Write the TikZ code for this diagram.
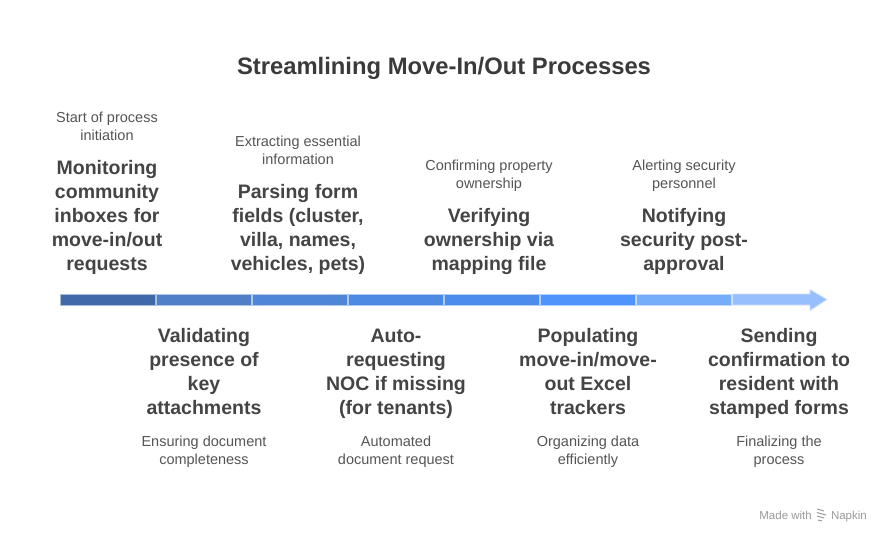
\documentclass[tikz,border=0pt]{standalone}
\usepackage{fontspec}
\setmainfont{Liberation Sans}
\definecolor{titlec}{HTML}{3A3A3A}
\definecolor{bigc}{HTML}{444444}
\definecolor{smallc}{HTML}{555555}
\definecolor{wm}{HTML}{9A9A9A}
\definecolor{c1}{HTML}{4169AA}
\definecolor{c2}{HTML}{5080C8}
\definecolor{c3}{HTML}{4F86D6}
\definecolor{c4}{HTML}{4D8AE3}
\definecolor{c5}{HTML}{4C8DEB}
\definecolor{c6}{HTML}{4E94FA}
\definecolor{c7}{HTML}{76ADFA}
\definecolor{c8}{HTML}{97BFFD}
\tikzset{
  seg/.style={draw=#1!45!white, fill=#1, line width=0.8pt},
  big/.style={font=\fontsize{19.5}{24}\selectfont\bfseries, text=bigc, align=center, inner sep=0pt, anchor=north},
  small/.style={font=\fontsize{14.5}{18}\selectfont, text=smallc, align=center, inner sep=0pt, anchor=north},
}
\begin{document}
\begin{tikzpicture}[x=1pt,y=-1pt]
\useasboundingbox (0,0) rectangle (888,540);
\fill[white] (0,0) rectangle (888,540);
% title
\node[font=\fontsize{23.8}{28}\selectfont\bfseries, text=titlec, anchor=base, inner sep=0pt] (title) at (444,75) {Streamlining Move-In/Out Processes};
% timeline bar
\draw[seg=c1] (60,294) rectangle (155.5,305);
\draw[seg=c2] (156.5,294) rectangle (251.5,305);
\draw[seg=c3] (252.5,294) rectangle (347.5,305);
\draw[seg=c4] (348.5,294) rectangle (443.5,305);
\draw[seg=c5] (444.5,294) rectangle (539.5,305);
\draw[seg=c6] (540.5,294) rectangle (635.5,305);
\draw[seg=c7] (636.5,294) rectangle (731.5,305);
\draw[seg=c8] (732.5,294) -- (810,294) -- (810,289.5) -- (827,299.5) -- (810,310.5) -- (810,305) -- (732.5,305) -- cycle;
% top labels
\node[small] (s1) at (107,111.5) {Start of process\\initiation};
\node[big] (b1) at (107,160.5) {Monitoring\\community\\inboxes for\\move-in/out\\requests};
\node[small] (s3) at (298,135.5) {Extracting essential\\information};
\node[big] (b3) at (298,184.5) {Parsing form\\fields (cluster,\\villa, names,\\vehicles, pets)};
\node[small] (s5) at (489,159.5) {Confirming property\\ownership};
\node[big] (b5) at (489,208.5) {Verifying\\ownership via\\mapping file};
\node[small] (s7) at (684,159.5) {Alerting security\\personnel};
\node[big] (b7) at (684,208.5) {Notifying\\security post-\\approval};
% bottom labels
\node[big] (b2) at (204,328.5) {Validating\\presence of\\key\\attachments};
\node[small] (s2) at (204,435.5) {Ensuring document\\completeness};
\node[big] (b4) at (396,328.5) {Auto-\\requesting\\NOC if missing\\(for tenants)};
\node[small] (s4) at (396,435.5) {Automated\\document request};
\node[big] (b6) at (588,328.5) {Populating\\move-in/move-\\out Excel\\trackers};
\node[small] (s6) at (588,435.5) {Organizing data\\efficiently};
\node[big] (b8) at (779,328.5) {Sending\\confirmation to\\resident with\\stamped forms};
\node[small] (s8) at (779,435.5) {Finalizing the\\process};
% watermark
\node[font=\fontsize{11.5}{13}\selectfont, text=wm, anchor=base east, inner sep=0pt] (wm1) at (812,519) {Made with};
\node[font=\fontsize{11.5}{13}\selectfont, text=wm, anchor=base east, inner sep=0pt] (wm2) at (867,519) {Napkin};
\draw[wm, line width=1pt] (817,509) -- (824,511) (817,512.5) -- (826,515) (817,516) -- (824,518) (818,520) -- (822,521);
\end{tikzpicture}
\end{document}
